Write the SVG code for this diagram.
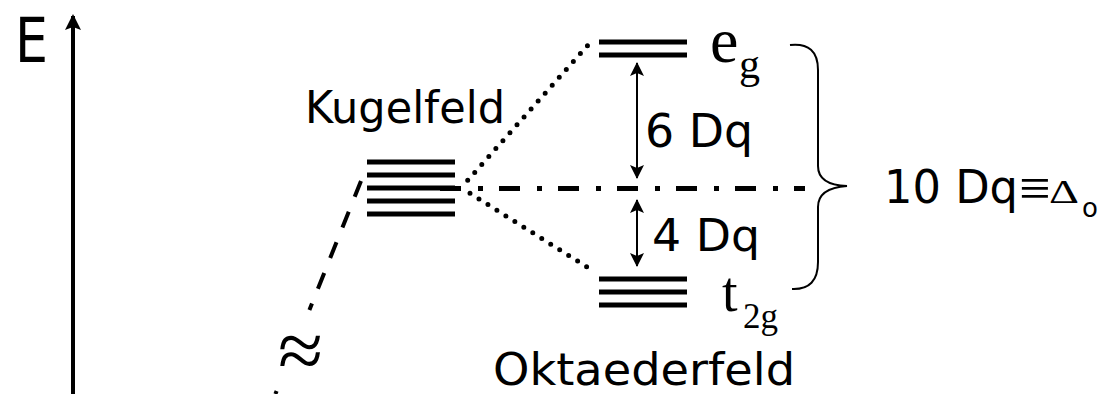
<svg xmlns="http://www.w3.org/2000/svg" width="1104" height="394" viewBox="0 0 1104 394">
<style>
.sans{font-family:"DejaVu Sans","Liberation Sans",sans-serif;fill:#000}
.serif{font-family:"Liberation Serif","Times New Roman",serif;fill:#000}
.level{stroke:#000;stroke-width:5;fill:none}
.thin{stroke:#000;stroke-width:2;fill:none}
.dots{stroke:#000;stroke-width:5;stroke-linecap:round;stroke-dasharray:0 10.6;fill:none}
</style>
<defs>
<marker id="ah" markerUnits="userSpaceOnUse" markerWidth="14" markerHeight="14" refX="13" refY="7" orient="auto-start-reverse">
<path d="M0,0 L14,7 L0,14 L3,7 z" fill="#000"/>
</marker>
<marker id="axh" markerUnits="userSpaceOnUse" markerWidth="16" markerHeight="16" refX="14" refY="8" orient="auto">
<path d="M0,0 L16,8 L0,16 L3,8 z" fill="#000"/>
</marker>
</defs>
<rect width="1104" height="394" fill="#fff"/>

<g id="axis">
<line x1="73" y1="394" x2="73" y2="16" stroke="#000" stroke-width="4" marker-end="url(#axh)"/>
<text class="sans" x="15" y="62" font-size="63" textLength="33" lengthAdjust="spacingAndGlyphs">E</text>
</g>

<g id="connectors">
<line x1="361" y1="181" x2="309.4" y2="310" stroke="#000" stroke-width="4" stroke-dasharray="17 16"/>
<line x1="276.6" y1="391" x2="275.4" y2="394" stroke="#000" stroke-width="4"/>
<line class="dots" x1="467.7" y1="180.3" x2="588" y2="45"/>
<line class="dots" x1="470" y1="193.3" x2="587" y2="267"/>
<line x1="440" y1="188.5" x2="805" y2="188.5" stroke="#000" stroke-width="5" stroke-dasharray="21 17 5 16"/>
<line class="thin" x1="637" y1="63" x2="637" y2="178" marker-start="url(#ah)" marker-end="url(#ah)"/>
<line class="thin" x1="637" y1="200" x2="637" y2="266" marker-start="url(#ah)" marker-end="url(#ah)"/>
<path class="thin" d="M790,45 Q818,42 818,70 L818,166 Q818,185 847,186 Q818,188 818,207 L818,262 Q818,290 792,289"/>
</g>

<g id="kugelfeld">
<text class="sans" x="305" y="123" font-size="44" textLength="200" lengthAdjust="spacingAndGlyphs">Kugelfeld</text>
<line class="level" x1="367" y1="162" x2="455" y2="162"/>
<line class="level" x1="367" y1="175" x2="455" y2="175"/>
<line class="level" x1="367" y1="188" x2="455" y2="188"/>
<line class="level" x1="367" y1="201" x2="455" y2="201"/>
<line class="level" x1="367" y1="214" x2="455" y2="214"/>
</g>

<g id="eg">
<line class="level" x1="599" y1="42" x2="687" y2="42"/>
<line class="level" x1="599" y1="55" x2="687" y2="55"/>
<text class="serif" x="710" y="62" font-size="64">e</text>
<text class="serif" x="739" y="78" font-size="42">g</text>
</g>

<g id="t2g">
<line class="level" x1="599" y1="279" x2="687" y2="279"/>
<line class="level" x1="599" y1="292" x2="687" y2="292"/>
<line class="level" x1="599" y1="305" x2="687" y2="305"/>
<text class="serif" x="722" y="311" font-size="56">t</text>
<text class="serif" x="743" y="328" font-size="35">2g</text>
</g>

<g id="labels">
<text class="sans" x="645" y="147" font-size="46" textLength="108" lengthAdjust="spacingAndGlyphs">6 Dq</text>
<text class="sans" x="652" y="251" font-size="44" textLength="108" lengthAdjust="spacingAndGlyphs">4 Dq</text>
<text class="sans" x="884" y="203" font-size="46" textLength="134" lengthAdjust="spacingAndGlyphs">10 Dq</text>
<text class="serif" x="1019" y="207" font-size="56">≡</text>
<text class="serif" x="1049" y="203" font-size="33" textLength="30" lengthAdjust="spacingAndGlyphs">Δ</text>
<text class="sans" x="1082" y="217" font-size="26">o</text>
<text class="serif" x="278" y="378" font-size="82">≈</text>
<text class="sans" x="493" y="385" font-size="44" textLength="302" lengthAdjust="spacingAndGlyphs">Oktaederfeld</text>
</g>
</svg>
